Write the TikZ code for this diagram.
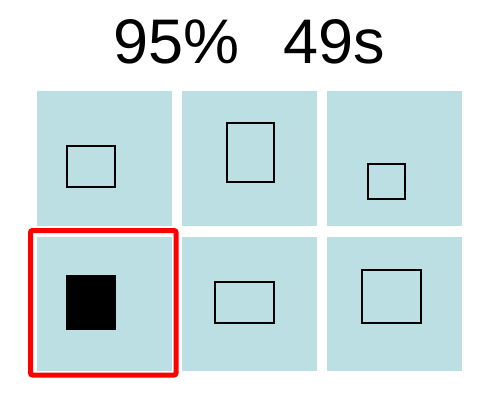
\documentclass[tikz,border=0pt]{standalone}
\usepackage{fontspec}
\setmainfont{Liberation Sans}
\definecolor{cellbg}{RGB}{187,223,226}
\definecolor{selred}{RGB}{255,0,0}
\begin{document}
\begin{tikzpicture}[x=1pt,y=-1pt,
  cellbox/.style={fill=cellbg,draw=none},
  outlinebox/.style={draw=black,line width=2pt},
  filledbox/.style={draw=black,fill=black,line width=0.5pt},
  selbox/.style={draw=selred,line width=5pt,rounded corners=2pt}]
\useasboundingbox (0,0) rectangle (500,400);
\fill[white] (0,0) rectangle (500,400);
\node[anchor=base,inner sep=0pt,font=\fontsize{63}{63}\selectfont] (title) at (249.5,63) {95\%\hspace{0.7em}49s};
% cells
\path[cellbox] (37,91) rectangle (172,226);
\path[cellbox] (182,91) rectangle (317,226);
\path[cellbox] (327,91) rectangle (462,226);
\path[cellbox] (37,237) rectangle (172,371);
\path[cellbox] (182,237) rectangle (317,371);
\path[cellbox] (327,237) rectangle (462,371);
% shapes
\draw[outlinebox] (67,146) rectangle (114.5,187);
\draw[outlinebox] (227,122.5) rectangle (274,181.5);
\draw[outlinebox] (368,163.5) rectangle (404.5,199);
\draw[filledbox] (66.5,275.5) rectangle (115.5,329.5);
\draw[outlinebox] (215,282) rectangle (274,323);
\draw[outlinebox] (362,270) rectangle (421,323);
% selection
\draw[selbox] (30.5,230.5) rectangle (176,375);
\end{tikzpicture}
\end{document}
